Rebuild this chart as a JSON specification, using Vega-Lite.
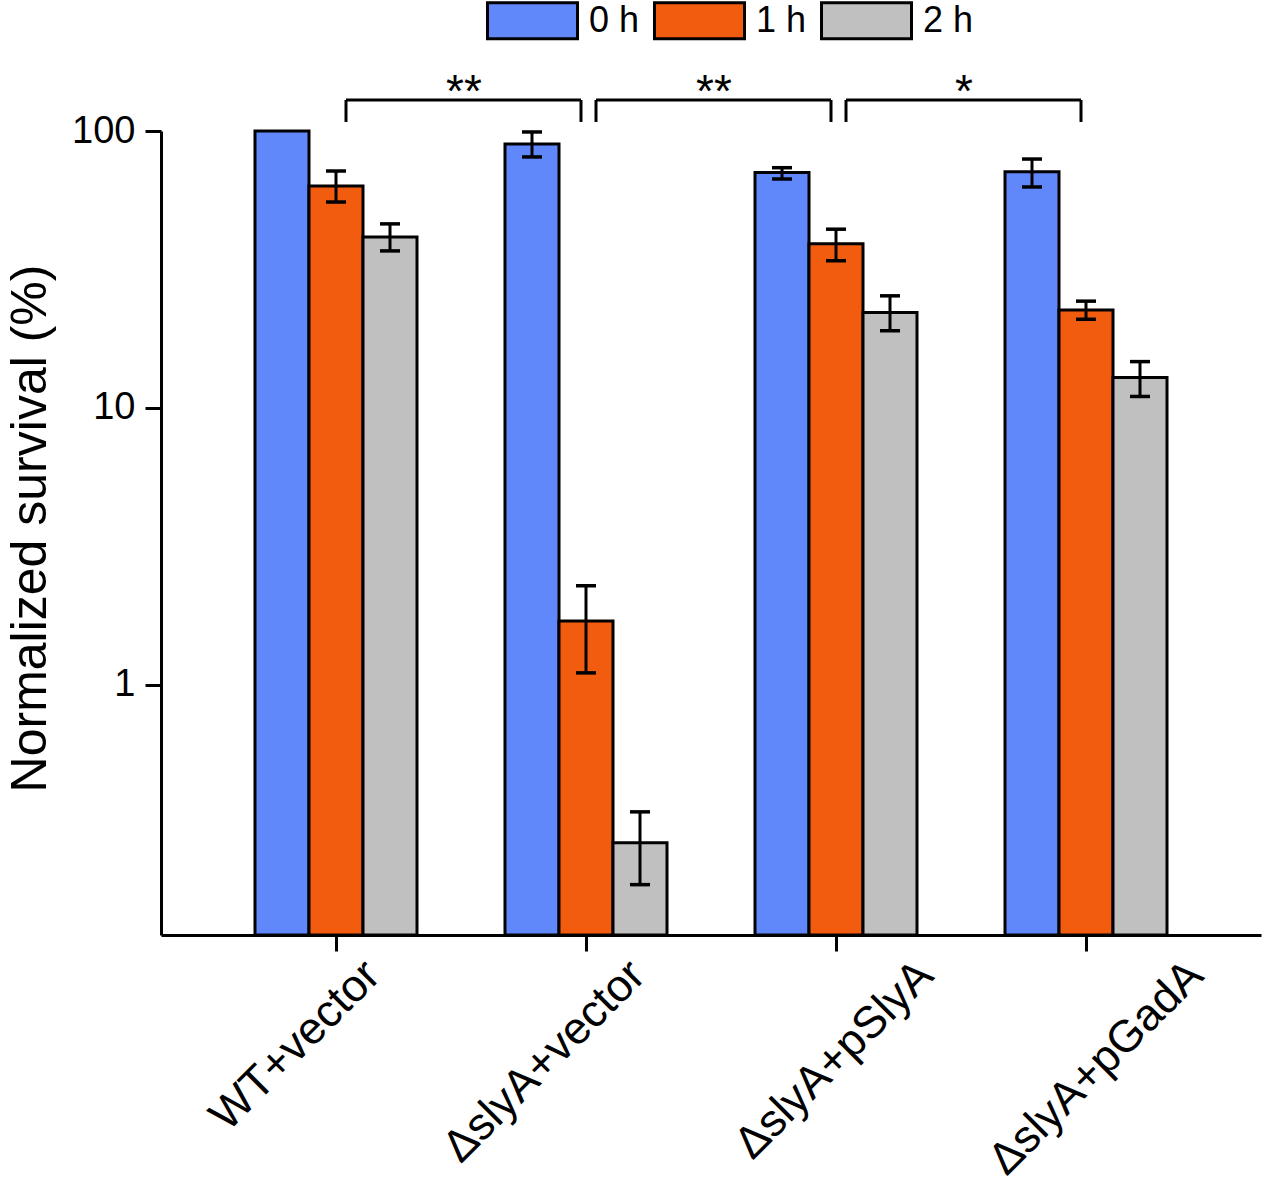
{
  "$schema": "https://vega.github.io/schema/vega-lite/v6.json",
  "autosize": {"type": "none"},
  "padding": {"left": 161, "top": 131, "right": 6, "bottom": 248},
  "width": 1100,
  "height": 804,
  "background": "white",
  "config": {
    "view": {"stroke": null},
    "font": "Liberation Sans",
    "axis": {
      "domainColor": "black",
      "domainWidth": 3,
      "tickColor": "black",
      "tickWidth": 3,
      "labelColor": "black",
      "titleColor": "black",
      "labelFont": "Liberation Sans",
      "titleFont": "Liberation Sans",
      "titleFontWeight": "normal",
      "grid": false
    }
  },
  "datasets": {
    "survival": [
      {"group": "WT+vector", "time": "0 h", "value": 100},
      {"group": "WT+vector", "time": "1 h", "value": 63.3, "lo": 55.4, "hi": 71.7},
      {"group": "WT+vector", "time": "2 h", "value": 41.4, "lo": 36.9, "hi": 46.2},
      {"group": "ΔslyA+vector", "time": "0 h", "value": 89.8, "lo": 80.6, "hi": 99.2},
      {"group": "ΔslyA+vector", "time": "1 h", "value": 1.70, "lo": 1.105, "hi": 2.28},
      {"group": "ΔslyA+vector", "time": "2 h", "value": 0.269, "lo": 0.190, "hi": 0.348},
      {"group": "ΔslyA+pSlyA", "time": "0 h", "value": 70.8, "lo": 67.1, "hi": 73.7},
      {"group": "ΔslyA+pSlyA", "time": "1 h", "value": 39.2, "lo": 34.0, "hi": 44.2},
      {"group": "ΔslyA+pSlyA", "time": "2 h", "value": 22.1, "lo": 19.0, "hi": 25.4},
      {"group": "ΔslyA+pGadA", "time": "0 h", "value": 71.3, "lo": 62.8, "hi": 79.2},
      {"group": "ΔslyA+pGadA", "time": "1 h", "value": 22.6, "lo": 20.9, "hi": 24.3},
      {"group": "ΔslyA+pGadA", "time": "2 h", "value": 12.87, "lo": 11.0, "hi": 14.7}
    ],
    "brackets": [
      {"from": "WT+vector", "to": "ΔslyA+vector", "sig": "**"},
      {"from": "ΔslyA+vector", "to": "ΔslyA+pSlyA", "sig": "**"},
      {"from": "ΔslyA+pSlyA", "to": "ΔslyA+pGadA", "sig": "*"}
    ]
  },
  "layer": [
    {
      "data": {"name": "survival"},
      "mark": {"type": "bar", "stroke": "black", "strokeWidth": 3, "opacity": 1},
      "encoding": {
        "x": {
          "field": "group",
          "type": "nominal",
          "title": null,
          "scale": {
            "domain": ["WT+vector", "ΔslyA+vector", "ΔslyA+pSlyA", "ΔslyA+pGadA"],
            "paddingInner": 0.352,
            "paddingOuter": 0.376
          },
          "axis": {
            "labelAngle": -45,
            "labelFontSize": 45,
            "labelLimit": 0,
            "tickSize": 16,
            "labelPadding": 1,
            "labelOffset": {
              "condition": [
                {"test": "datum.value === 'WT+vector'", "value": 21},
                {"test": "datum.value === 'ΔslyA+vector'", "value": 36},
                {"test": "datum.value === 'ΔslyA+pSlyA'", "value": 74}
              ],
              "value": 94
            }
          }
        },
        "xOffset": {
          "field": "time",
          "type": "nominal",
          "scale": {"domain": ["0 h", "1 h", "2 h"], "paddingInner": 0, "paddingOuter": 0}
        },
        "y": {
          "field": "value",
          "type": "quantitative",
          "title": "Normalized survival (%)",
          "scale": {"type": "log", "domain": [0.125, 100], "nice": false},
          "axis": {
            "values": [1, 10, 100],
            "format": "d",
            "labelFontSize": 38,
            "tickSize": 16,
            "labelPadding": 10,
            "titleFontSize": 50,
            "titleX": -106,
            "titleY": 397
          }
        },
        "y2": {"datum": 0.125},
        "fill": {
          "field": "time",
          "type": "nominal",
          "scale": {"domain": ["0 h", "1 h", "2 h"], "range": ["#6088FA", "#F25C0F", "#C0C0C0"]},
          "legend": {
            "title": null,
            "orient": "none",
            "legendX": 325,
            "legendY": -157,
            "direction": "horizontal",
            "symbolType": "M-1,-0.4H1V0.4H-1Z",
            "symbolSize": 8100,
            "symbolStrokeColor": "black",
            "symbolStrokeWidth": 3,
            "symbolOpacity": 1,
            "labelFontSize": 36,
            "labelColor": "black",
            "labelOffset": 10,
            "columnPadding": 8
          }
        }
      }
    },
    {
      "data": {"name": "survival"},
      "mark": {"type": "rule", "color": "black", "strokeWidth": 3},
      "encoding": {
        "x": {"field": "group", "type": "nominal", "title": null},
        "xOffset": {"field": "time", "type": "nominal"},
        "y": {"field": "lo", "type": "quantitative", "title": "Normalized survival (%)"},
        "y2": {"field": "hi"}
      }
    },
    {
      "data": {"name": "survival"},
      "mark": {"type": "tick", "color": "black", "orient": "horizontal", "size": 20, "thickness": 3.5, "opacity": 1},
      "encoding": {
        "x": {"field": "group", "type": "nominal", "title": null},
        "xOffset": {"field": "time", "type": "nominal"},
        "y": {"field": "lo", "type": "quantitative", "title": "Normalized survival (%)"}
      }
    },
    {
      "data": {"name": "survival"},
      "mark": {"type": "tick", "color": "black", "orient": "horizontal", "size": 20, "thickness": 3.5, "opacity": 1},
      "encoding": {
        "x": {"field": "group", "type": "nominal", "title": null},
        "xOffset": {"field": "time", "type": "nominal"},
        "y": {"field": "hi", "type": "quantitative", "title": "Normalized survival (%)"}
      }
    },
    {
      "data": {"name": "brackets"},
      "mark": {"type": "rule", "color": "black", "strokeWidth": 3, "xOffset": 10, "x2Offset": -5},
      "encoding": {
        "x": {"field": "from", "type": "nominal", "title": null},
        "x2": {"field": "to"},
        "y": {"datum": 129.4, "title": "Normalized survival (%)"}
      }
    },
    {
      "data": {"name": "brackets"},
      "mark": {"type": "rule", "color": "black", "strokeWidth": 3, "xOffset": 10},
      "encoding": {
        "x": {"field": "from", "type": "nominal", "title": null},
        "y": {"datum": 129.4, "title": "Normalized survival (%)"},
        "y2": {"datum": 107.8}
      }
    },
    {
      "data": {"name": "brackets"},
      "mark": {"type": "rule", "color": "black", "strokeWidth": 3, "xOffset": -5},
      "encoding": {
        "x": {"field": "to", "type": "nominal", "title": null},
        "y": {"datum": 129.4, "title": "Normalized survival (%)"},
        "y2": {"datum": 107.8}
      }
    },
    {
      "data": {"name": "brackets"},
      "mark": {"type": "text", "color": "black", "fontSize": 46, "baseline": "alphabetic", "align": "center", "xOffset": 128},
      "encoding": {
        "x": {"field": "from", "type": "nominal", "title": null},
        "y": {"datum": 122, "title": "Normalized survival (%)"},
        "text": {"field": "sig"}
      }
    }
  ]
}
